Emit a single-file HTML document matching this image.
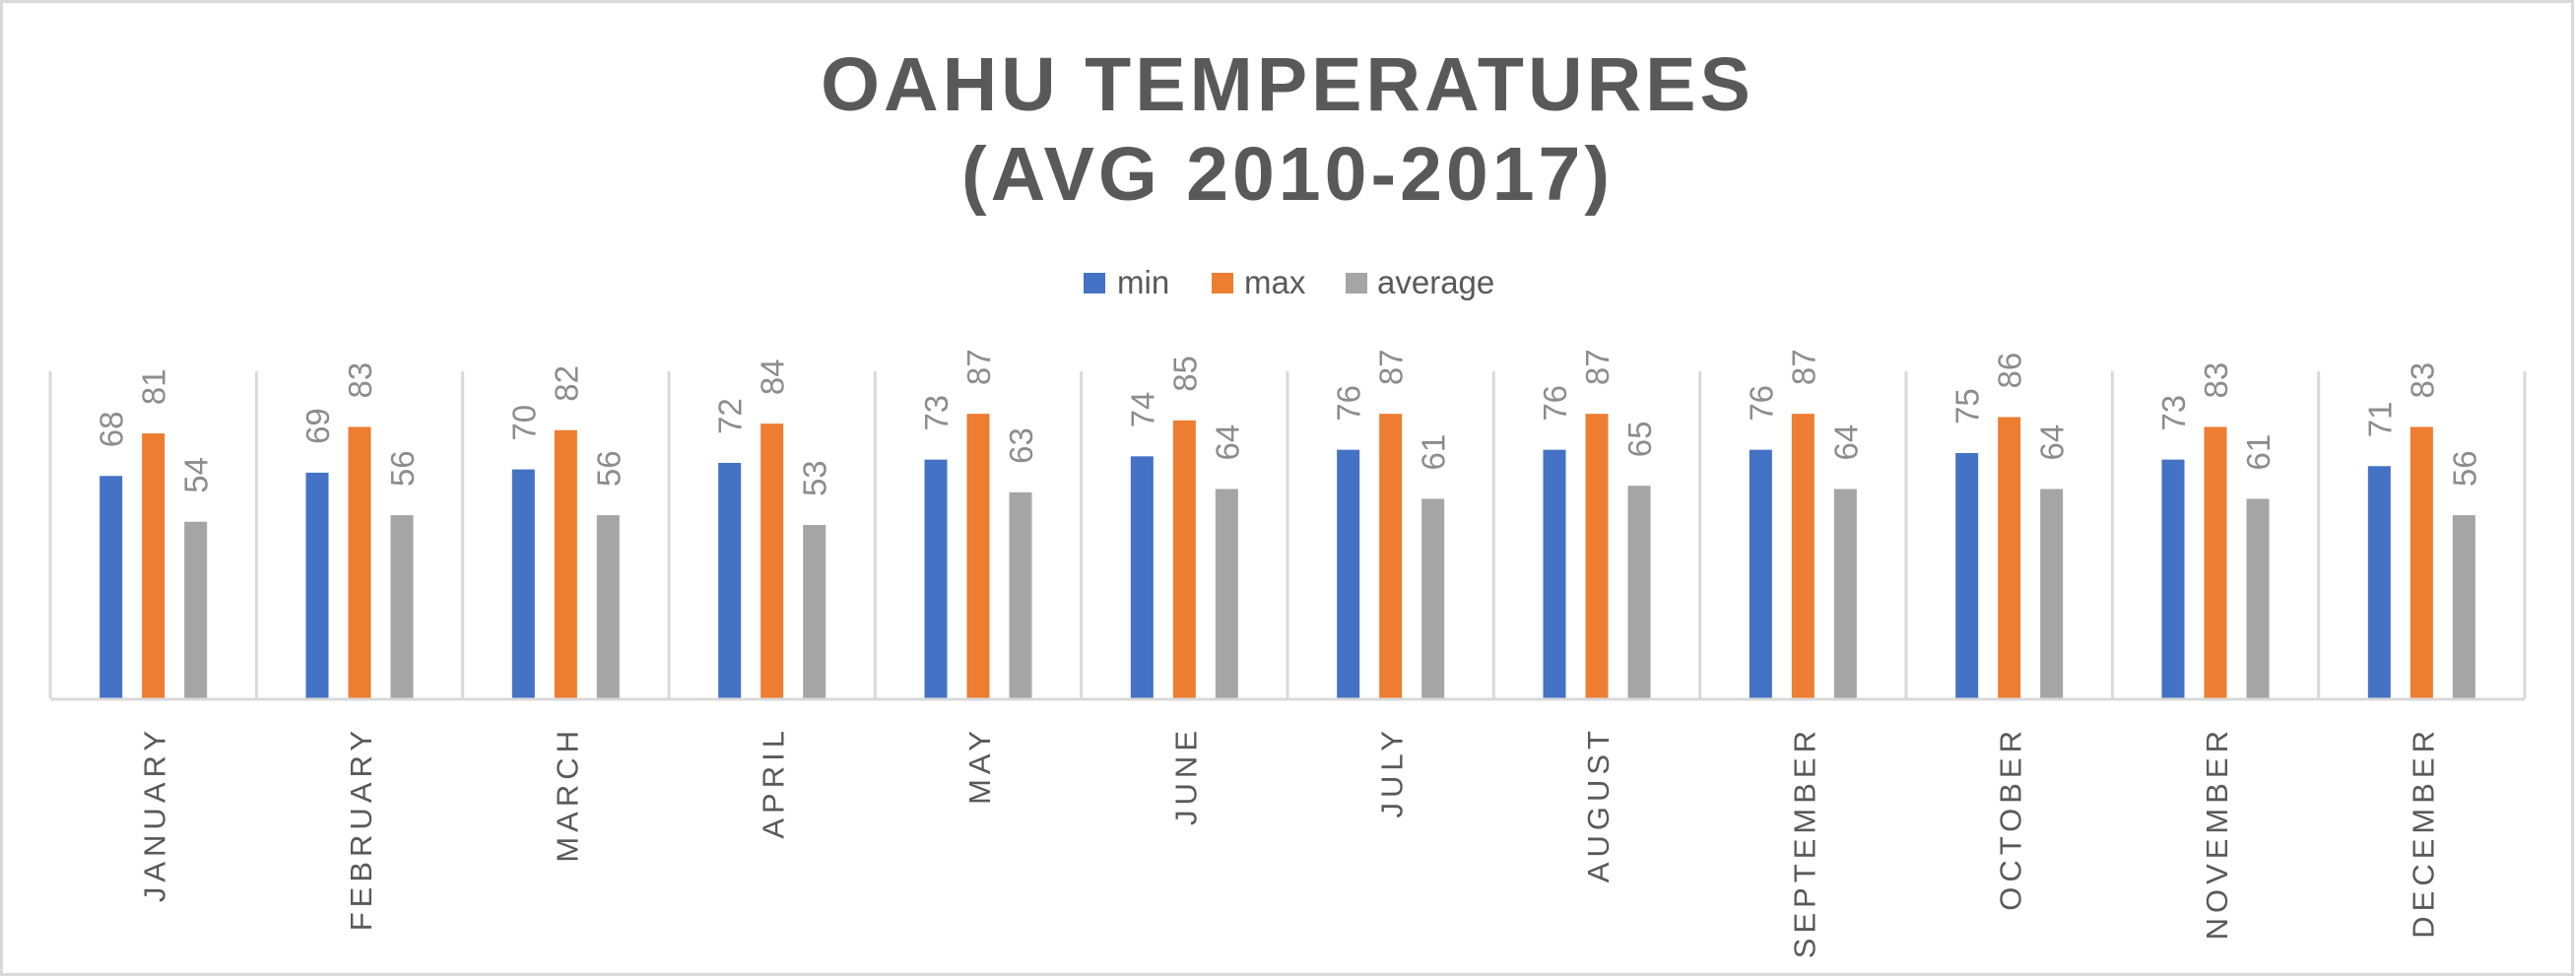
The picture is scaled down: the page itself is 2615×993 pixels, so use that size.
<!DOCTYPE html>
<html><head><meta charset="utf-8">
<style>
html,body{margin:0;padding:0;background:#fff;}
svg{display:block;}
</style></head>
<body>
<svg id="chart" width="2615" height="993" viewBox="0 0 2615 993" xmlns="http://www.w3.org/2000/svg">
<rect x="1.5" y="1.5" width="2610" height="988" fill="#fff" stroke="#d9d9d9" stroke-width="3"/>
<g font-family="'Liberation Sans', sans-serif" font-weight="bold" font-size="77" fill="#595959" text-anchor="middle" letter-spacing="4">
<text x="1307" y="112">OAHU TEMPERATURES</text>
<text x="1307" y="203">(AVG 2010-2017)</text>
</g>
<g font-family="'Liberation Sans', sans-serif" font-size="33" fill="#595959">
<g><rect x="1100" y="277" width="22" height="21" fill="#4472c4"/><text x="1134" y="298">min</text></g>
<g><rect x="1230" y="277" width="22" height="21" fill="#ed7d31"/><text x="1263" y="298">max</text></g>
<g><rect x="1366" y="277" width="22" height="21" fill="#a5a5a5"/><text x="1398" y="298">average</text></g>
</g>
<g id="grid"></g>
<g id="bars"></g>
<g id="labels"></g>
<g id="xaxis"></g>
</svg>
<script>
const categories = ["JANUARY","FEBRUARY","MARCH","APRIL","MAY","JUNE","JULY","AUGUST","SEPTEMBER","OCTOBER","NOVEMBER","DECEMBER"];
const minValues = [68,69,70,72,73,74,76,76,76,75,73,71];
const maxValues = [81,83,82,84,87,85,87,87,87,86,83,83];
const avgValues = [54,56,56,53,63,64,61,65,64,64,61,56];
const seriesNames = ["min","max","average"];
const seriesColors = ["#4472c4","#ed7d31","#a5a5a5"];
const yMin = 0, yMax = 100;

const NS = "http://www.w3.org/2000/svg";
const plotLeft = 51, plotRight = 2563, plotTop = 377, plotBottom = 709;
const catW = (plotRight - plotLeft) / categories.length;
function xCenter(i){ return plotLeft + catW * (i + 0.5); }
function yScale(v){ return plotBottom - (v - yMin) / (yMax - yMin) * (plotBottom - plotTop); }
function mk(tag, attrs){ const e = document.createElementNS(NS, tag); for (const k in attrs) e.setAttribute(k, attrs[k]); return e; }

const grid = document.getElementById('grid');
for (let i = 0; i <= categories.length; i++) {
  const x = plotLeft + catW * i;
  const l = mk('line', {x1:x, x2:x, y1:plotTop, y2:plotBottom, stroke:'#d9d9d9', 'stroke-width':3});
  
  
  grid.appendChild(l);
}
const xaxis = document.getElementById('xaxis');
const axisLine = mk('line', {x1:plotLeft, x2:plotRight, y1:plotBottom+1, y2:plotBottom+1, stroke:'#d9d9d9', 'stroke-width':3});


xaxis.appendChild(axisLine);

const series = [minValues, maxValues, avgValues];
const barW = 23, step = 43;
const bars = document.getElementById('bars');
const labels = document.getElementById('labels');
categories.forEach((c, i) => {
  const cx = xCenter(i);
  series.forEach((vals, s) => {
    const bx = cx + (s - 1) * step - barW / 2;
    const top = yScale(vals[i]);
    const r = mk('rect', {x:bx, y:top, width:barW, height:plotBottom - top, fill:seriesColors[s]});
    
    
    bars.appendChild(r);
    const tx = bx + barW / 2 + 12, ty = top - 29;
    const t = mk('text', {x:tx, y:ty, transform:'rotate(-90 ' + tx + ' ' + ty + ')', 'font-family':"'Liberation Sans', sans-serif", 'font-size':33, fill:'#8c8c8c'});
    t.textContent = vals[i];
    
    
    labels.appendChild(t);
  });
  const lx = cx + 12, ly = 737;
  const t = mk('text', {x:lx, y:ly, transform:'rotate(-90 ' + lx + ' ' + ly + ')', 'text-anchor':'end', 'font-family':"'Liberation Sans', sans-serif", 'font-size':31, 'letter-spacing':5, fill:'#595959'});
  t.textContent = c;
  
  
  xaxis.appendChild(t);
});
</script>
</body></html>
